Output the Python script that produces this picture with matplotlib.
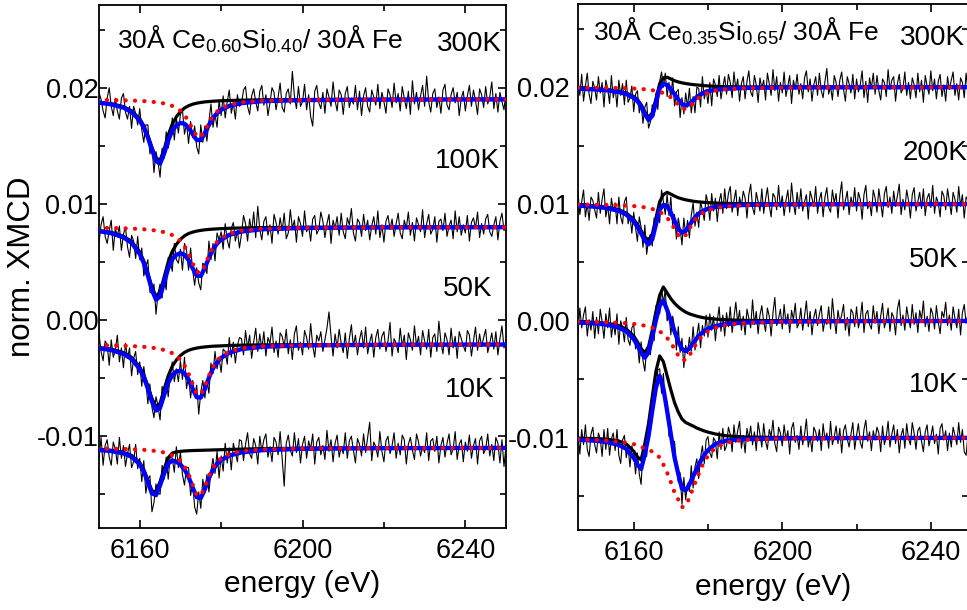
#!/usr/bin/env python3
"""Ce L3-edge XMCD of two CeSi/Fe multilayers at several temperatures, with fits."""

import numpy as np
import matplotlib

matplotlib.use("Agg")
import matplotlib.pyplot as plt
from matplotlib.ticker import MultipleLocator, FormatStrFormatter

plt.rcParams["font.family"] = ["Liberation Sans", "DejaVu Sans"]
plt.rcParams["mathtext.fontset"] = "custom"
plt.rcParams["mathtext.rm"] = "Liberation Sans"
plt.rcParams["mathtext.it"] = "Liberation Sans:italic"
plt.rcParams["mathtext.bf"] = "Liberation Sans:bold"
plt.rcParams["axes.unicode_minus"] = False

# every trace is given in units of 1e-4, relative to its own vertical offset
UNIT = 1e-4

# energies (eV) at which the fit curves are tabulated
fit_e = [6145, 6150, 6153, 6156, 6158, 6160, 6161, 6162, 6163, 6164,
         6165, 6166, 6167, 6168, 6169, 6170, 6171, 6172, 6173, 6174,
         6175, 6176, 6177, 6178, 6179, 6180, 6182, 6185, 6190, 6200,
         6220, 6250]

# measured spectra are sampled every 0.5 eV
data_e_left = np.arange(6150, 6250.5, 0.5)
data_e_right = np.arange(6145, 6250.5, 0.5)

# ---------------- left panel: 30A Ce0.60Si0.40 / 30A Fe ----------------
temps_left = ["300K", "100K", "50K", "10K"]
offsets_left = [0.0190, 0.0080, -0.0021, -0.0110]

black_l300 = [-1.4, -2.4, -3.7, -6.3, -9.9, -16.8, -22.7, -31.0, -41.3, -50.6,
              -52.4, -43.0, -30.7, -21.3, -15.0, -10.5, -7.5, -5.5, -4.2, -3.3,
              -2.7, -2.2, -1.9, -1.6, -1.4, -1.2, -1.0, -0.7, -0.4, -0.2, -0.1, 0.0]
red_l300 = [-0.34, -0.48, -0.63, -0.84, -1.04, -1.34, -1.53, -1.77, -2.07, -2.45,
            -2.94, -3.58, -4.45, -5.65, -7.37, -9.85, -13.5, -18.8, -25.7, -31.7,
            -32.4, -27.1, -20.1, -14.4, -10.5, -7.8, -4.66, -2.54, -1.2, -0.45, -0.14, -0.05]
blue_l300 = [-1.74, -2.88, -4.33, -7.14, -10.94, -18.14, -24.23, -32.77, -43.37, -53.05,
             -55.34, -46.58, -35.15, -26.95, -22.37, -20.35, -21.0, -24.3, -29.9, -35.0,
             -35.1, -29.3, -22.0, -16.0, -11.9, -9.0, -5.66, -3.24, -1.6, -0.65, -0.24, -0.05]
data_l300 = [
    6, 0, -10, -16, 1, 10, -6, -14, 1, -10,
    -17, 1, 5, -11, -17, -6, -25, -6, -12, -22,
    -8, -26, -37, -22, -22, -47, -40, -63, -45, -54,
    -67, -42, -51, -28, -42, -33, -16, -35, -16, -29,
    -13, -9, -30, -21, -38, -19, -33, -23, -41, -47,
    -22, -37, -23, -36, -19, -4, -24, -13, -24, -1,
    -14, 3, -16, -2, 8, -12, -3, -17, 4, -6,
    -4, 8, 11, -6, -13, 3, 9, -2, -10, 7,
    12, -5, 4, -14, -3, 10, 6, -9, 2, 14,
    -7, -11, 5, 9, -4, 24, 3, -8, 11, -6,
    -2, 13, -9, 4, -15, -23, 7, 12, -3, -8,
    6, -12, 9, 2, -6, 15, -1, -10, 8, 4,
    -13, 5, 11, -7, 1, -4, 12, -9, 7, -14,
    3, 10, -6, -11, 8, 2, -5, 13, -8, 6,
    -2, -12, 9, 4, -7, 14, -3, 5, -10, 11,
    1, -8, 7, -13, 16, -4, 6, -9, 3, 12,
    -6, 20, -2, -11, 5, 9, -7, 2, -12, 8,
    13, -5, -9, 4, 10, -3, 6, -14, 1, 7,
    -10, 3, 12, -6, 8, -1, -13, 9, 4, -7,
    11, -4, 2, 15, -8, 5, -11, 6, -2, -9,
    7]

black_l100 = [-1.6, -2.9, -4.5, -7.8, -12.3, -21.4, -29.1, -39.6, -51.5, -59.5,
              -56.2, -43.0, -30.0, -20.8, -14.9, -10.5, -7.5, -5.5, -4.3, -3.4,
              -2.8, -2.3, -2.0, -1.7, -1.5, -1.3, -1.0, -0.7, -0.4, -0.2, -0.1, 0.0]
red_l100 = [-0.41, -0.58, -0.76, -1.02, -1.26, -1.62, -1.85, -2.15, -2.51, -2.97,
            -3.56, -4.34, -5.39, -6.85, -8.93, -11.9, -16.4, -22.8, -31.1, -38.4,
            -39.3, -32.8, -24.4, -17.5, -12.7, -9.45, -5.65, -3.08, -1.45, -0.55, -0.17, -0.06]
blue_l100 = [-2.01, -3.48, -5.26, -8.82, -13.56, -23.02, -30.95, -41.75, -54.01, -62.47,
             -59.76, -47.34, -35.39, -27.65, -23.83, -22.4, -23.9, -28.3, -35.4, -41.8,
             -42.1, -35.1, -26.4, -19.2, -14.2, -10.75, -6.65, -3.78, -1.85, -0.75, -0.27, -0.06]
data_l100 = [
    -13, 2, 9, -8, -14, -3, 6, -20, -1, -8,
    1, -20, -6, 0, -17, -26, -7, -12, -27, -8,
    -28, -18, -42, -34, -28, -56, -57, -49, -75, -57,
    -49, -61, -43, -54, -26, -30, -38, -14, -28, -31,
    -19, -37, -14, -20, -37, -18, -37, -50, -35, -48,
    -54, -31, -33, -40, -12, -28, -14, -29, -5, -11,
    -4, -19, 3, -11, -18, -1, 4, -12, -3, -18,
    -6, 10, 3, -12, 7, -4, 13, -9, 18, -2,
    -11, 5, 9, -7, 2, -14, 11, 4, -6, 8,
    -3, 12, -10, -5, 15, -1, 6, -13, 9, 3,
    -8, 14, -4, 1, -12, 7, 10, -6, -2, 13,
    5, -9, 3, 11, -14, 6, -1, 9, -7, 12,
    -4, -10, 8, 2, 16, -5, -12, 7, 4, -8,
    11, -3, 6, -11, 1, 9, -6, 14, -9, 2,
    -13, 5, 10, -2, 7, -8, 3, 12, -5, -10,
    6, -1, 13, -7, 4, -12, 8, 2, -4, 15,
    -9, 3, 11, -6, -2, 9, -13, 5, 7, -3,
    12, -8, 1, 6, -10, 14, -4, 9, -7, 2,
    -5, 10, -12, 4, 8, -1, 13, -9, 3, -6,
    7, 11, -4, -8, 2, 9, -11, 5, 12, -3,
    4]

black_l50 = [-1.4, -2.6, -4.0, -7.0, -11.1, -19.3, -26.2, -35.6, -46.4, -53.6,
             -50.6, -38.7, -27.0, -18.7, -13.4, -9.5, -6.8, -5.0, -3.9, -3.1,
             -2.5, -2.1, -1.8, -1.5, -1.35, -1.2, -0.9, -0.6, -0.4, -0.2, -0.1, 0.0]
red_l50 = [-0.45, -0.64, -0.84, -1.12, -1.39, -1.79, -2.04, -2.36, -2.76, -3.27,
           -3.92, -4.77, -5.93, -7.53, -9.83, -13.1, -18.0, -25.1, -34.3, -42.3,
           -43.2, -36.1, -26.8, -19.2, -14.0, -10.4, -6.21, -3.39, -1.6, -0.6, -0.19, -0.07]
blue_l50 = [-1.85, -3.24, -4.84, -8.12, -12.49, -21.09, -28.24, -37.96, -49.16, -56.87,
            -54.52, -43.47, -32.93, -26.23, -23.23, -22.6, -24.8, -30.1, -38.2, -45.4,
            -45.7, -38.2, -28.6, -20.7, -15.35, -11.6, -7.11, -3.99, -2.0, -0.8, -0.29, -0.07]
data_l50 = [
    9, -6, -14, 3, 0, -18, 4, -11, -5, 8,
    -15, -3, -20, 1, -12, -3, -27, -12, -6, -26,
    -15, -36, -19, -32, -51, -34, -54, -63, -45, -53,
    -65, -36, -47, -30, -45, -25, -15, -32, -21, -32,
    -14, -30, -11, -38, -27, -46, -31, -44, -35, -60,
    -41, -31, -46, -31, -42, -16, -25, -6, -21, -12,
    -24, -4, -6, -17, 6, -11, 2, -16, -1, 6,
    5, -9, 12, -3, 8, -12, 2, 14, -6, 9,
    -4, 11, -10, 6, 1, 15, -7, 3, -11, 10,
    7, -2, 13, -8, 4, -13, 9, 16, -5, 2,
    -9, 12, 6, -4, 18, -1, -11, 8, 3, 11,
    -6, 4, 14, 28, 7, -10, 9, -3, 13, 1,
    -7, 10, -12, 5, 17, -2, 8, -9, 4, 12,
    -3, 15, -8, 2, 9, -11, 6, 13, -4, 7,
    11, -6, 3, 19, -10, 5, 1, -7, 14, -2,
    8, -13, 10, 4, -5, 16, -1, 7, -9, 12,
    3, -4, 13, -11, 6, 9, -6, 20, 2, -8,
    10, 4, -9, 14, -3, 7, -12, 11, 5, -1,
    -6, 12, 8, -10, 3, 15, -5, 9, -2, 6,
    13, -7, 1, 10, -4, 11, -9, 5, 16, -3,
    4]

black_l10 = [-0.7, -1.3, -2.1, -3.8, -6.5, -12.7, -18.7, -27.7, -36.9, -38.0,
             -29.0, -18.0, -8.5, -4.5, -3.5, -3.0, -2.7, -2.5, -2.3, -2.2,
             -2.1, -2.0, -1.9, -1.8, -1.7, -1.6, -1.4, -1.1, -0.7, -0.3, -0.1, 0.0]
red_l10 = [-0.37, -0.54, -0.69, -0.93, -1.16, -1.49, -1.71, -1.98, -2.31, -2.74,
           -3.28, -4.03, -5.02, -6.4, -8.4, -11.35, -15.8, -22.6, -31.7, -40.2,
           -41.2, -33.6, -24.2, -17.0, -12.1, -8.9, -5.26, -2.84, -1.34, -0.5, -0.16, -0.06]
blue_l10 = [-1.07, -1.84, -2.79, -4.73, -7.66, -14.19, -20.41, -29.68, -39.21, -40.74,
            -32.28, -22.03, -13.52, -10.9, -11.9, -14.35, -18.5, -25.1, -34.0, -42.4,
            -43.3, -35.6, -26.1, -18.8, -13.8, -10.5, -6.66, -3.94, -2.04, -0.8, -0.26, -0.06]
data_l10 = [
    -9, 9, -15, 2, 7, -8, -15, 5, -1, -14,
    9, -9, 2, -16, -5, 3, -17, -12, 3, -18,
    -9, -29, -11, -39, -27, -24, -55, -47, -31, -39,
    -40, -15, -27, -8, -27, -6, -9, -21, 1, -17,
    -4, -23, -32, -17, -17, -41, -30, -51, -57, -38,
    -52, -27, -39, -23, -38, -20, -9, -22, -3, -26,
    -7, -20, 4, -13, 0, -19, 4, -4, -12, 7,
    6, -11, 3, 13, -5, -9, 8, 2, -14, 10,
    -3, 7, 12, -8, 1, -12, 9, 5, -6, 14,
    -10, -33, 4, 11, -2, -7, 13, -4, 8, -13,
    3, 10, -9, 6, -1, 12, -14, 5, 9, -6,
    2, -10, 15, -3, 7, -12, 4, 11, -8, 1,
    -5, 13, -9, 6, 10, -2, -13, 8, 3, -7,
    12, -4, 9, 22, -11, 5, 1, -8, 14, -3,
    -12, 6, 10, -5, 2, 13, -9, 4, -6, 11,
    7, -14, 3, 9, -2, -10, 12, 5, -7, 1,
    -4, 13, -11, 6, 8, -3, 10, -13, 2, 9,
    -8, 4, 12, -6, -1, 14, -10, 3, 7, -12,
    5, -3, 11, -9, 2, 8, -14, 6, 10, -5,
    -1, 12, -7, 3, -11, 9, 4, -13, 7, -16,
    2]

# ---------------- right panel: 30A Ce0.35Si0.65 / 30A Fe ----------------
temps_right = ["300K", "200K", "50K", "10K"]
offsets_right = [0.0200, 0.0100, 0.0000, -0.0100]

black_r300 = [-1.0, -1.6, -2.2, -3.5, -5.0, -8.0, -10.5, -15.0, -21.0, -26.0,
              -22.0, -10.0, 3.0, 8.0, 8.5, 7.0, 5.5, 4.5, 3.7, 3.1,
              2.6, 2.2, 1.9, 1.6, 1.3, 1.1, 0.7, 0.4, 0.2, 0.1, 0.0, 0.0]
red_r300 = [-0.28, -0.40, -0.53, -0.70, -0.88, -1.15, -1.32, -1.53, -1.81, -2.15,
            -2.59, -3.19, -3.98, -5.06, -6.6, -8.7, -11.6, -15.0, -18.1, -18.9,
            -17.0, -13.6, -10.4, -7.8, -5.9, -4.6, -2.9, -1.7, -0.85, -0.34, -0.11, -0.03]
blue_r300 = [-1.28, -2.0, -2.73, -4.2, -5.88, -9.15, -11.82, -16.53, -22.81, -28.15,
             -24.59, -13.19, -0.98, 2.94, 1.9, -1.7, -6.1, -10.5, -14.4, -15.8,
             -14.4, -11.4, -8.5, -6.2, -4.6, -3.5, -2.2, -1.3, -0.65, -0.24, -0.11, -0.03]
data_r300 = [
    7, -7, 11, -12, 1, 12, -6, -14, 5, -1,
    -11, 9, -5, 4, -17, 6, -1, -14, 10, -9,
    0, -17, 6, -7, 3, -15, 6, -13, -9, 1,
    -21, -6, -3, -22, -14, -31, -17, -13, -35, -30,
    -15, -24, -5, -19, 5, 13, 0, 12, -8, 4,
    -9, 8, -16, -4, -2, -26, -9, -23, -5, -17,
    -1, -22, -8, -22, 0, -1, -17, 9, -10, -2,
    -14, 4, -16, 7, 2, -8, 10, -10, 0, 9,
    -6, 11, 4, -9, 13, -2, 7, -12, 3, 9,
    -10, 5, 14, -4, -8, 10, 2, -13, 8, -1,
    6, -11, 12, 3, -7, 15, -3, 9, -12, 4,
    -5, 13, -8, 1, 10, -14, 6, -2, 11, -6,
    3, -10, 8, 14, -4, 7, -12, 2, 9, -7,
    12, -3, -9, 5, 16, -6, 1, -11, 10, 4,
    -8, 6, 13, -2, -12, 9, 3, -5, 11, -10,
    7, -4, 2, 14, -9, 5, -13, 8, -1, 12,
    -6, 10, -3, -11, 7, 4, -8, 15, -2, 6,
    9, -12, 3, 11, -5, -1, 13, -7, 4, -10,
    8, 2, -9, 12, -4, 6, -13, 10, 1, -6,
    14, -3, 7, -10, 5, 11, -8, 2, -12, 9,
    -2, 6, 13, -7, 3, -11, 8, 4, -9, 12,
    -4]

black_r200 = [-1.0, -1.8, -2.8, -4.9, -7.7, -13.1, -17.4, -22.8, -28.2, -31.0,
              -26.0, -12.0, 2.0, 8.0, 10.0, 8.5, 6.8, 5.4, 4.4, 3.6,
              3.0, 2.4, 2.0, 1.7, 1.4, 1.2, 0.8, 0.5, 0.25, 0.1, 0.0, 0.0]
red_r200 = [-0.40, -0.58, -0.77, -1.05, -1.34, -1.76, -2.04, -2.4, -2.85, -3.44,
            -4.22, -5.27, -6.73, -8.8, -11.7, -15.9, -21.2, -26.6, -29.0, -26.6,
            -21.2, -15.9, -11.7, -8.8, -6.73, -5.27, -3.44, -2.04, -1.05, -0.43, -0.14, -0.05]
blue_r200 = [-1.4, -2.38, -3.57, -5.95, -9.04, -14.86, -19.44, -25.2, -31.05, -34.44,
             -30.22, -17.27, -4.73, -0.8, -1.7, -7.4, -14.4, -21.2, -24.6, -23.0,
             -18.2, -13.5, -9.7, -7.1, -5.33, -4.07, -2.64, -1.54, -0.8, -0.33, -0.14, -0.05]
data_r200 = [
    10, -9, 2, 12, -11, 0, -14, 6, 3, -5,
    -12, 10, -8, 4, 13, -11, -1, -17, 5, -6,
    1, -17, 6, -11, -17, 2, 6, -17, -10, -25,
    -7, -20, -32, -11, -20, -37, -18, -43, -30, -26,
    -36, -12, -19, -2, -16, 12, 2, -9, 8, -10,
    6, -19, -9, -30, -12, -21, -35, -12, -27, -14,
    -29, -10, 1, -19, -7, -20, 2, -5, -14, 8,
    1, -14, 9, -6, 5, -15, 2, 9, -8, 13,
    -4, 9, 15, -7, 3, 12, -10, 6, -2, 11,
    5, -12, 8, 17, -3, -9, 10, 2, -6, 13,
    -8, 4, 14, -1, -11, 9, 6, -5, 16, -3,
    7, -10, 3, 12, -7, 18, 1, -9, 10, -4,
    13, -6, 2, 8, -13, 11, 5, -2, 15, -8,
    4, 10, -11, 6, 14, -3, -7, 12, 1, 9,
    -12, 7, 19, -5, 3, 11, -9, 6, -2, 14,
    -6, 10, 4, -13, 8, 16, -4, 2, -10, 12,
    5, -7, 13, 1, -11, 9, 15, -3, 6, -8,
    11, -2, 7, 17, -9, 4, -5, 12, 3, -12,
    8, 14, -6, 2, 10, -4, 13, -10, 5, 9,
    -3, 16, -8, 6, 1, -11, 11, 7, -5, 13,
    2, -9, 10, 4, -7, 15, -2, 8, -12, 6,
    3]

black_r50 = [-0.73, -1.35, -2.2, -4.1, -6.9, -12.9, -17.9, -23.7, -27.4, -22.0,
             -8.0, 8.0, 22.0, 29.0, 24.0, 19.0, 15.0, 12.0, 9.5, 7.5,
             6.0, 5.0, 4.0, 3.2, 2.6, 2.2, 1.5, 0.9, 0.4, 0.15, 0.05, 0.0]
red_r50 = [-0.62, -0.91, -1.19, -1.61, -2.02, -2.62, -3.0, -3.5, -4.12, -4.9,
           -5.91, -7.23, -9.0, -11.4, -14.6, -18.8, -24.1, -29.6, -33.5, -33.5,
           -29.6, -24.1, -18.8, -14.6, -11.4, -9.0, -5.91, -3.5, -1.8, -0.72, -0.24, -0.09]
blue_r50 = [-1.35, -2.26, -3.39, -5.71, -8.92, -15.52, -20.9, -27.2, -31.52, -26.9,
            -13.91, 0.77, 13.0, 17.6, 9.4, 0.2, -9.1, -17.6, -24.0, -26.0,
            -23.6, -19.1, -14.8, -11.4, -8.8, -6.8, -4.41, -2.6, -1.4, -0.57, -0.19, -0.09]
data_r50 = [
    -10, 11, -6, 5, 12, -13, 1, -8, 8, -15,
    3, -11, 10, -1, -15, 6, -6, 11, -14, -1,
    -12, 6, -20, 0, -6, -18, 3, -16, -21, -6,
    -3, -24, -18, -36, -18, -34, -43, -23, -25, -29,
    -8, -17, 13, 11, 6, 28, 15, 27, 0, 7,
    -12, 4, -5, -25, -5, -27, -15, -40, -21, -28,
    -14, -26, -5, -25, -13, -2, -23, -4, -13, 5,
    -14, 6, -8, 4, -17, 0, 12, -9, 5, -13,
    7, -5, 12, -10, 3, 16, -2, 9, -8, 4,
    -12, 10, 2, -6, 18, -3, 8, -11, 5, 13,
    -1, -9, 11, 4, -13, 7, 20, -4, 2, 10,
    -7, 14, -3, 6, -10, 9, 1, 15, -6, -2,
    11, -8, 4, 17, -5, 8, -12, 3, 10, -4,
    6, 13, -9, 1, -3, 12, -7, 19, 2, -11,
    9, -1, 5, 14, -8, 3, -13, 10, 7, -5,
    12, -6, 2, 16, -10, 6, 9, -3, -7, 13,
    -2, 8, -11, 4, 15, -6, 1, 11, -9, 7,
    3, -12, 10, 18, -4, 5, -8, 12, 2, -6,
    14, -3, 7, -10, 9, 1, 17, -5, 4, -9,
    11, 6, -7, 13, -1, -11, 8, 3, 16, -4,
    5, -8, 12, 2, -6, 10, -12, 7, 14, -2,
    6]

black_r10 = [-0.4, -0.79, -1.36, -2.8, -5.3, -11.6, -16.4, -19.0, -5.0, 12.0,
             35.0, 57.0, 70.0, 65.0, 53.0, 41.0, 30.0, 22.0, 16.0, 13.0,
             11.5, 10.0, 8.3, 7.0, 5.8, 4.8, 3.2, 1.6, 0.6, 0.2, 0.05, 0.0]
red_r10 = [-1.2, -1.9, -2.5, -3.4, -4.2, -5.5, -6.5, -7.8, -9.3, -10.5,
           -11.8, -14.0, -17.0, -23.0, -30.0, -38.0, -47.0, -53.0, -59.5, -58.0,
           -51.5, -43.0, -35.0, -27.0, -20.5, -15.5, -8.5, -4.0, -1.8, -0.8, -0.3, -0.1]
blue_r10 = [-1.6, -2.69, -3.86, -6.2, -9.5, -17.1, -22.9, -26.8, -14.3, 1.5,
            23.2, 43.0, 53.0, 42.0, 23.0, 3.0, -17.0, -31.0, -43.5, -45.0,
            -40.0, -33.0, -26.7, -20.0, -14.7, -10.7, -5.3, -2.4, -1.2, -0.6, -0.25, -0.1]
data_r10 = [
    4, -14, 7, -6, 11, -10, -16, 3, 9, -6,
    -13, 4, -1, -16, 7, -10, 8, -15, -1, 4,
    -11, 7, -15, -22, -2, 2, -17, -8, -25, -7,
    -13, -31, -13, -31, -40, -10, -9, -16, 16, 10,
    15, 44, 39, 58, 59, 38, 55, 28, 31, 1,
    10, -15, -3, -25, -38, -30, -57, -34, -53, -39,
    -46, -24, -43, -25, -18, -35, -17, -7, -22, -2,
    1, -13, -17, 0, -3, -18, 5, -10, 8, -11,
    -7, 9, 3, -12, 11, -4, 6, 14, -9, 2,
    -13, 8, -1, 10, -6, 5, -11, 13, 3, -8,
    12, -3, -10, 7, 1, 15, -5, -12, 9, 4,
    -7, 11, -2, 6, -14, 8, 13, -4, 2, -10,
    10, -6, 3, 16, -8, 1, -12, 9, 5, -3,
    7, -11, 12, -2, 4, -9, 14, -6, 1, 10,
    -5, 8, -13, 6, 11, -1, -8, 3, 13, -10,
    2, 12, -4, -9, 7, 15, -3, 5, -11, 6,
    -2, 9, 4, -12, 10, -6, 1, 14, -8, 3,
    11, -5, 7, -13, 2, 8, -9, 12, -1, -6,
    13, 4, -10, 6, 9, -3, -12, 5, 11, -7,
    1, 10, -5, 3, -14, 8, 12, -2, 6, -11,
    4, -8, 9, 2, -6, 13, -4, 7, -12, -15,
    3]


def draw_traces(ax, data_e, offsets, datas, blacks, reds, blues):
    fe = np.array(fit_e)
    for off, d, k, r, b in zip(offsets, datas, blacks, reds, blues):
        ax.plot(data_e, off + np.array(d) * UNIT, color="black", lw=0.8, zorder=2)
        ax.plot(fe, off + np.array(k) * UNIT, color="black", lw=2.3,
                solid_joinstyle="round", zorder=3)
        ax.plot(fe, off + np.array(b) * UNIT, color="#0000ff", lw=3.1,
                solid_joinstyle="round", zorder=4)
        ax.plot(fe, off + np.array(r) * UNIT, color="#ff0000", lw=3.0,
                linestyle=(0, (0.05, 2.2)), dash_capstyle="round", zorder=5)


def style_axes(ax, xlim, ypad):
    ax.set_xlim(*xlim)
    ax.set_ylim(-0.0179, 0.0271)
    ax.xaxis.set_major_locator(MultipleLocator(40))
    ax.xaxis.set_minor_locator(MultipleLocator(20))
    ax.yaxis.set_major_locator(MultipleLocator(0.01))
    ax.yaxis.set_minor_locator(MultipleLocator(0.005))
    ax.yaxis.set_major_formatter(FormatStrFormatter("%.2f"))
    ax.tick_params(which="both", direction="in", top=True, right=True,
                   width=1.2, labelsize=19.5, color="black")
    ax.tick_params(which="major", length=6)
    ax.tick_params(which="minor", length=4.5)
    ax.tick_params(axis="x", pad=7)
    ax.tick_params(axis="y", pad=ypad)
    for s in ax.spines.values():
        s.set_linewidth(1.3)


fig = plt.figure(figsize=(9.67, 6.10), dpi=100)
ax_l = fig.add_axes([0.1024, 0.1344, 0.4209, 0.857])
ax_r = fig.add_axes([0.5977, 0.1311, 0.4033, 0.862])

draw_traces(ax_l, data_e_left, offsets_left,
            [data_l300, data_l100, data_l50, data_l10],
            [black_l300, black_l100, black_l50, black_l10],
            [red_l300, red_l100, red_l50, red_l10],
            [blue_l300, blue_l100, blue_l50, blue_l10])
draw_traces(ax_r, data_e_right, offsets_right,
            [data_r300, data_r200, data_r50, data_r10],
            [black_r300, black_r200, black_r50, black_r10],
            [red_r300, red_r200, red_r50, red_r10],
            [blue_r300, blue_r200, blue_r50, blue_r10])

style_axes(ax_l, (6150, 6250), 0.5)
style_axes(ax_r, (6145, 6250), 6)

# sample names
ax_l.text(6154.4, 0.02335, r"30Å Ce$_{0.60}$Si$_{0.40}$/ 30Å Fe", fontsize=19,
          ha="left", va="baseline")
ax_r.text(6149.0, 0.02393, r"30Å Ce$_{0.35}$Si$_{0.65}$/ 30Å Fe", fontsize=19,
          ha="left", va="baseline")

# temperature labels
for t, (x, y) in zip(temps_left, [(6249.0, 0.02318), (6248.5, 0.01312),
                                  (6246.6, 0.00211), (6247.1, -0.00666)]):
    ax_l.text(x, y, t, fontsize=20, ha="right", va="baseline")
for t, (x, y) in zip(temps_right, [(6231.8, 0.02359), (6232.3, 0.01376),
                                   (6234.2, 0.00462), (6234.2, -0.00607)]):
    ax_r.text(x, y, t, fontsize=20, ha="left", va="baseline", clip_on=False)

fig.text(22 / 967, 1 - 267 / 610, "norm. XMCD", fontsize=22.5, rotation=90,
         ha="center", va="center")
fig.text(302.5 / 967, 1 - 592 / 610, "energy (eV)", fontsize=21.5,
         ha="center", va="baseline")
fig.text(773 / 967, 1 - 595 / 610, "energy (eV)", fontsize=21.5,
         ha="center", va="baseline")

fig.savefig("out.png", dpi=100)
